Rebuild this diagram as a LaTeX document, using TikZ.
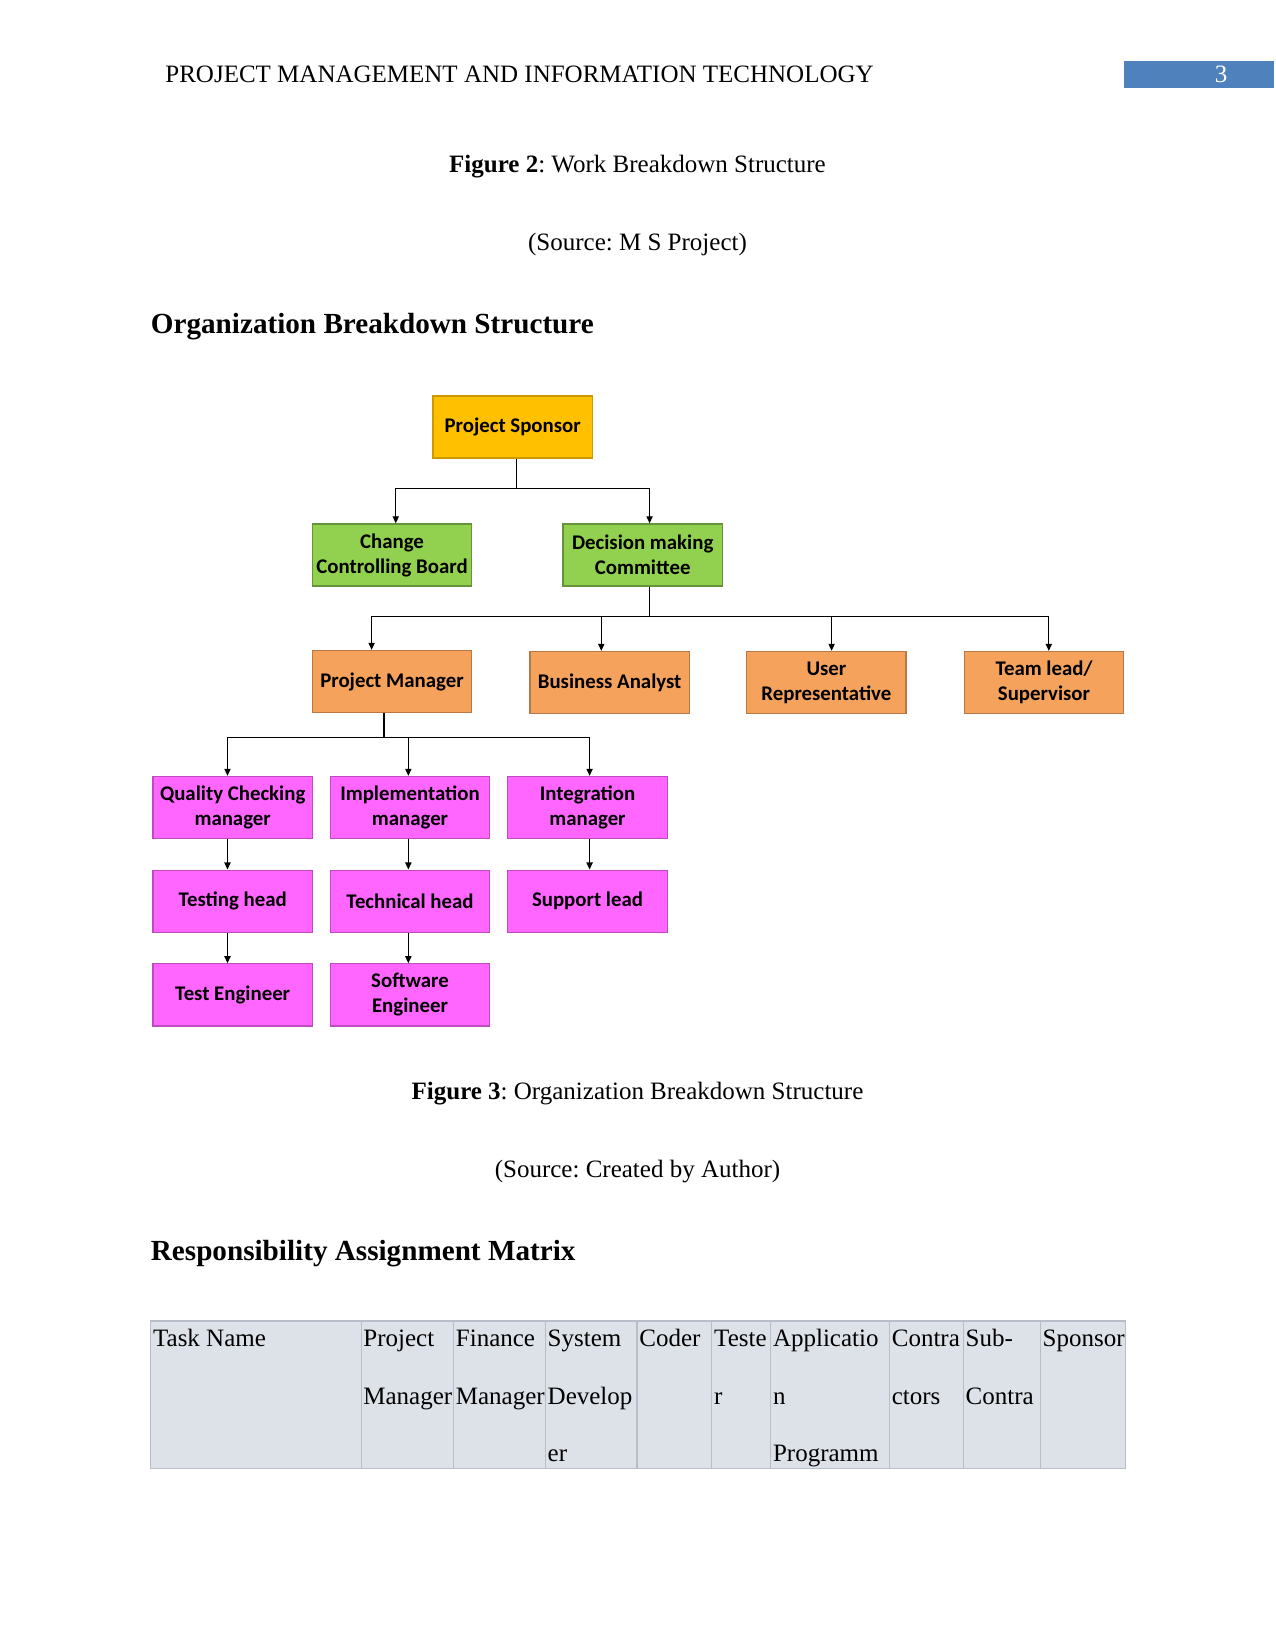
\documentclass[tikz,border=0pt]{standalone}
\usepackage{fontspec}
\setmainfont{Liberation Serif}
\newfontfamily\chartfont{Carlito}
\usetikzlibrary{arrows.meta}
\frenchspacing
\definecolor{gold}{HTML}{FFC000}
\definecolor{leaf}{HTML}{92D050}
\definecolor{peach}{HTML}{F5A25D}
\definecolor{pink}{HTML}{FF66FF}
\definecolor{headblue}{HTML}{4F81BD}
\definecolor{tablefill}{HTML}{DDE1E8}
\definecolor{tableline}{HTML}{B8BEC8}
\begin{document}
\begin{tikzpicture}[x=0.48pt,y=-0.48pt,
  chartbox/.style={rectangle, minimum width=76.5pt, minimum height=29.8pt, inner sep=0pt,
    align=center, font=\chartfont\bfseries\fontsize{10}{12}\selectfont, line width=0.6pt},
  sponsorbox/.style={chartbox, fill=gold, draw=gold!80!black},
  greenbox/.style={chartbox, fill=leaf, draw=leaf!70!black},
  orangebox/.style={chartbox, fill=peach, draw=peach!75!black},
  pinkbox/.style={chartbox, fill=pink, draw=pink!75!black},
  conn/.style={line width=0.6pt, -{Triangle[length=3.4pt,width=3pt]}},
  bodytext/.style={font=\fontsize{12}{14}\selectfont, inner sep=0pt},
  headingtext/.style={font=\bfseries\fontsize{14}{16}\selectfont, inner sep=0pt, anchor=base west},
  celltext/.style={font=\fontsize{12}{14}\selectfont, inner sep=0pt, anchor=base west}
]
\useasboundingbox (0,0) rectangle (1275,1651);
\fill[white] (0,0) rectangle (1275,1651);

% page header
\node[bodytext, anchor=base west] (hdr) at (165,83) {PROJECT MANAGEMENT AND INFORMATION TECHNOLOGY};
\node[fill=headblue, minimum width=72pt, minimum height=13.2pt, inner sep=0pt] (pgbox) at (1199,74.7) {};
\node[bodytext, text=white, anchor=base] (pgnum) at (1221,83) {3};

% captions / headings
\node[bodytext, anchor=base] (fig2) at (637.5,173) {\textbf{Figure 2}: Work Breakdown Structure};
\node[bodytext, anchor=base] (src2) at (637.5,251) {(Source: M S Project)};
\node[headingtext] (obs) at (150.5,333) {Organization Breakdown Structure};

% chart
\node[sponsorbox] (ps) at (512.7,427) {Project Sponsor};
\node[greenbox] (ccb) at (392,555) {Change\\Controlling Board};
\node[greenbox] (dmc) at (642.7,555) {Decision making\\Committee};

\node[orangebox] (pm) at (392,681.5) {Project Manager};
\node[orangebox] (ba) at (609.6,682.5) {Business Analyst};
\node[orangebox] (ur) at (826.4,682.5) {User\\Representative};
\node[orangebox] (tl) at (1044,682.5) {Team lead/\\Supervisor};

\node[pinkbox] (qc) at (232.7,807.5) {Quality Checking\\manager};
\node[pinkbox] (im) at (410,807.5) {Implementation\\manager};
\node[pinkbox] (ig) at (587.5,807.5) {Integration\\manager};

\node[pinkbox] (th) at (232.7,901.2) {Testing head};
\node[pinkbox] (tch) at (410,901.2) {Technical head};
\node[pinkbox] (sl) at (587.5,901.2) {Support lead};

\node[pinkbox] (te) at (232.7,994.9) {Test Engineer};
\node[pinkbox] (se) at (410,994.9) {Software\\Engineer};

\draw[conn] ([xshift=2pt]ps.south) -- ++(0,29.5) -| ([xshift=1.8pt]ccb.north);
\draw[conn] ([xshift=2pt]ps.south) -- ++(0,29.5) -| ([xshift=3.3pt]dmc.north);

\draw[conn] ([xshift=3.3pt]dmc.south) -- ++(0,30) -| ([xshift=-9.8pt]pm.north);
\draw[conn] ([xshift=3.3pt]dmc.south) -- ++(0,30) -| ([xshift=-4pt]ba.north);
\draw[conn] ([xshift=3.3pt]dmc.south) -- ++(0,30) -| ([xshift=2.5pt]ur.north);
\draw[conn] ([xshift=3.3pt]dmc.south) -- ++(0,30) -| ([xshift=2.3pt]tl.north);

\draw[conn] ([xshift=-3.8pt]pm.south) -- ++(0,24) -| ([xshift=-2.5pt]qc.north);
\draw[conn] ([xshift=-3.8pt]pm.south) -- ++(0,24) -| ([xshift=-0.8pt]im.north);
\draw[conn] ([xshift=-3.8pt]pm.south) -- ++(0,24) -| ([xshift=1pt]ig.north);

\draw[conn] ([xshift=-2.5pt]qc.south) -- ([xshift=-2.5pt]th.north);
\draw[conn] ([xshift=-0.8pt]im.south) -- ([xshift=-0.8pt]tch.north);
\draw[conn] ([xshift=1pt]ig.south) -- ([xshift=1pt]sl.north);
\draw[conn] ([xshift=-2.5pt]th.south) -- ([xshift=-2.5pt]te.north);
\draw[conn] ([xshift=-0.8pt]tch.south) -- ([xshift=-0.8pt]se.north);

\node[bodytext, anchor=base] (fig3) at (637.5,1099) {\textbf{Figure 3}: Organization Breakdown Structure};
\node[bodytext, anchor=base] (src3) at (637.5,1177) {(Source: Created by Author)};
\node[headingtext] (ram) at (150.5,1260) {Responsibility Assignment Matrix};

% table
\fill[tablefill] (150.5,1321) rectangle (1125.4,1468.6);
\draw[tableline, line width=0.6pt] (150.5,1321) rectangle (1125.4,1468.6);
\foreach \cx in {361.1,453.8,545.3,637,711.7,770.6,889.6,963.3,1040.2}
  \draw[tableline, line width=0.5pt] (\cx,1321) -- (\cx,1468.6);

\node[celltext] (c1) at (152.7,1346) {Task Name};
\node[celltext] (c2a) at (363,1346) {Project};
\node[celltext] (c2b) at (363,1404) {Manager};
\node[celltext] (c3a) at (455.5,1346) {Finance};
\node[celltext] (c3b) at (455.5,1404) {Manager};
\node[celltext] (c4a) at (547.3,1346) {System};
\node[celltext] (c4b) at (547.3,1404) {Develop};
\node[celltext] (c4c) at (547.3,1461) {er};
\node[celltext] (c5) at (639,1346) {Coder};
\node[celltext] (c6a) at (713.8,1346) {Teste};
\node[celltext] (c6b) at (713.8,1404) {r};
\node[celltext] (c7a) at (772.6,1346) {Applicatio};
\node[celltext] (c7b) at (772.6,1404) {n};
\node[celltext] (c7c) at (772.6,1461) {Programm};
\node[celltext] (c8a) at (891.4,1346) {Contra};
\node[celltext] (c8b) at (891.4,1404) {ctors};
\node[celltext] (c9a) at (965.3,1346) {Sub-};
\node[celltext] (c9b) at (965.3,1404) {Contra};
\node[celltext] (c10) at (1042.2,1346) {Sponsor};
\end{tikzpicture}
\end{document}
